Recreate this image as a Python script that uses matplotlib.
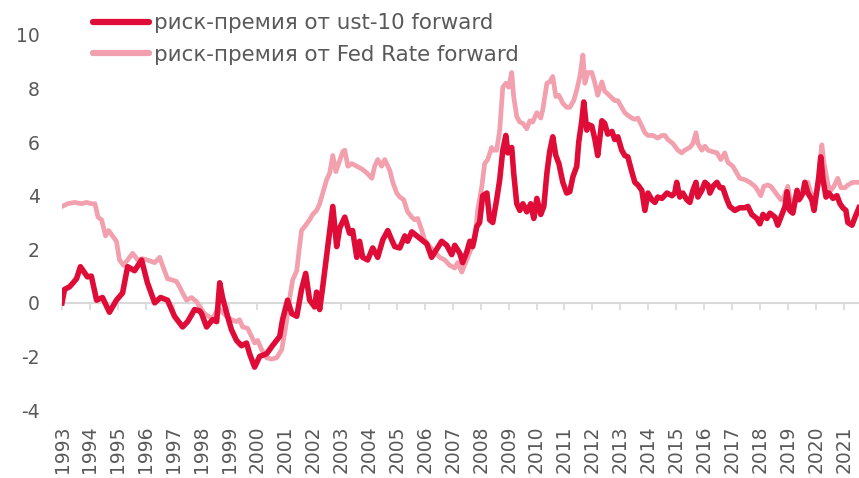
import matplotlib
matplotlib.use('Agg')
import matplotlib.pyplot as plt

# decimal years and values
t_ust = [1993.00, 1993.09, 1993.27, 1993.40, 1993.52, 1993.66, 1993.91, 1994.05, 1994.24, 1994.45,
         1994.70, 1994.95, 1995.17, 1995.35, 1995.60, 1995.85, 1996.06, 1996.32, 1996.53, 1996.78,
         1997.03, 1997.32, 1997.50, 1997.75, 1997.93, 1998.00, 1998.18, 1998.39, 1998.54, 1998.65,
         1998.75, 1998.93, 1999.07, 1999.25, 1999.43, 1999.61, 1999.72, 1999.90, 2000.08, 2000.33,
         2000.54, 2000.80, 2000.90, 2001.08, 2001.23, 2001.41, 2001.58, 2001.73, 2001.87, 2002.05,
         2002.12, 2002.23, 2002.34, 2002.52, 2002.70, 2002.84, 2002.95, 2003.13, 2003.30, 2003.41,
         2003.56, 2003.66, 2003.77, 2003.95, 2004.13, 2004.31, 2004.49, 2004.67, 2004.81, 2004.92,
         2005.10, 2005.28, 2005.38, 2005.53, 2005.71, 2005.89, 2006.07, 2006.24, 2006.42, 2006.60,
         2006.78, 2006.96, 2007.07, 2007.25, 2007.35, 2007.50, 2007.61, 2007.71, 2007.86, 2007.96,
         2008.07, 2008.22, 2008.32, 2008.43, 2008.57, 2008.68, 2008.79, 2008.90, 2008.97, 2009.11,
         2009.18, 2009.29, 2009.40, 2009.51, 2009.65, 2009.79, 2009.90, 2010.01, 2010.15, 2010.26,
         2010.37, 2010.47, 2010.58, 2010.69, 2010.80, 2010.94, 2011.08, 2011.19, 2011.30, 2011.44,
         2011.51, 2011.62, 2011.69, 2011.80, 2011.87, 2011.98, 2012.09, 2012.19, 2012.34, 2012.44,
         2012.55, 2012.70, 2012.80, 2012.91, 2013.05, 2013.16, 2013.27, 2013.41, 2013.52, 2013.63,
         2013.77, 2013.88, 2013.99, 2014.13, 2014.24, 2014.34, 2014.49, 2014.67, 2014.85, 2014.95,
         2015.02, 2015.13, 2015.24, 2015.38, 2015.49, 2015.60, 2015.71, 2015.78, 2015.92, 2016.03,
         2016.14, 2016.21, 2016.32, 2016.46, 2016.57, 2016.67, 2016.82, 2016.92, 2017.10, 2017.28,
         2017.46, 2017.57, 2017.71, 2017.89, 2018.00, 2018.11, 2018.25, 2018.36, 2018.54, 2018.64,
         2018.79, 2018.90, 2018.97, 2019.07, 2019.18, 2019.33, 2019.40, 2019.54, 2019.61, 2019.72,
         2019.86, 2019.94, 2020.04, 2020.11, 2020.18, 2020.26, 2020.37, 2020.47, 2020.62, 2020.76,
         2020.87, 2020.97, 2021.08, 2021.15, 2021.30, 2021.41, 2021.55]
ust10 = [0.0, 0.5, 0.6, 0.75, 0.9, 1.35, 0.97, 1.0, 0.1, 0.2,
         -0.35, 0.1, 0.37, 1.35, 1.2, 1.6, 0.75, 0.0, 0.2, 0.1,
         -0.5, -0.9, -0.7, -0.25, -0.3, -0.4, -0.9, -0.63, -0.7, 0.75,
         0.2, -0.5, -1.0, -1.4, -1.6, -1.5, -1.9, -2.4, -2.0, -1.9,
         -1.6, -1.25, -0.63, 0.1, -0.4, -0.5, 0.5, 1.1, 0.1, -0.15,
         0.4, -0.25, 0.6, 2.1, 3.6, 2.1, 2.8, 3.2, 2.6, 2.7,
         1.7, 2.3, 1.7, 1.6, 2.05, 1.7, 2.35, 2.7, 2.35, 2.1,
         2.05, 2.5, 2.3, 2.65, 2.5, 2.35, 2.2, 1.7, 2.0, 2.3,
         2.15, 1.8, 2.15, 1.85, 1.5, 1.9, 2.3, 2.1, 2.85, 3.0,
         4.0, 4.1, 3.1, 3.0, 3.85, 4.6, 5.7, 6.25, 5.6, 5.8,
         4.85, 3.7, 3.45, 3.7, 3.4, 3.7, 3.15, 3.9, 3.3, 3.6,
         4.85, 5.65, 6.2, 5.5, 5.2, 4.5, 4.1, 4.15, 4.7, 5.1,
         6.0, 6.8, 7.5, 6.45, 6.65, 6.6, 6.1, 5.5, 6.8, 6.7,
         6.3, 6.4, 6.1, 6.2, 5.7, 5.5, 5.45, 4.9, 4.5, 4.4,
         4.2, 3.45, 4.1, 3.85, 3.75, 3.95, 3.9, 4.1, 4.0, 4.1,
         4.5, 3.95, 4.1, 3.85, 3.75, 4.2, 4.5, 3.95, 4.2, 4.5,
         4.4, 4.1, 4.35, 4.5, 4.3, 4.3, 3.85, 3.6, 3.45, 3.55,
         3.55, 3.6, 3.3, 3.15, 2.95, 3.3, 3.15, 3.35, 3.2, 2.9,
         3.3, 3.6, 4.15, 3.45, 3.35, 4.2, 3.85, 4.1, 4.5, 4.1,
         3.85, 3.45, 4.2, 4.7, 5.45, 4.6, 3.95, 4.1, 3.9, 4.0,
         3.7, 3.55, 3.45, 3.0, 2.9, 3.2, 3.55]

t_fed = [1993.00, 1993.20, 1993.45, 1993.70, 1993.88, 1994.06, 1994.18, 1994.29, 1994.42, 1994.56,
         1994.67, 1994.81, 1994.95, 1995.06, 1995.20, 1995.35, 1995.53, 1995.71, 1995.88, 1996.06,
         1996.32, 1996.50, 1996.60, 1996.78, 1996.96, 1997.10, 1997.21, 1997.32, 1997.46, 1997.64,
         1997.82, 1997.93, 1998.10, 1998.39, 1998.60, 1998.90, 1999.07, 1999.25, 1999.36, 1999.47,
         1999.65, 1999.79, 1999.90, 2000.01, 2000.15, 2000.33, 2000.51, 2000.69, 2000.87, 2000.98,
         2001.05, 2001.16, 2001.26, 2001.41, 2001.48, 2001.58, 2001.73, 2001.87, 2001.98, 2002.12,
         2002.23, 2002.37, 2002.48, 2002.59, 2002.70, 2002.81, 2002.91, 2003.06, 2003.13, 2003.24,
         2003.38, 2003.56, 2003.74, 2003.92, 2004.10, 2004.20, 2004.31, 2004.45, 2004.56, 2004.74,
         2004.85, 2004.99, 2005.10, 2005.24, 2005.38, 2005.53, 2005.63, 2005.74, 2005.89, 2005.99,
         2006.17, 2006.35, 2006.53, 2006.71, 2006.89, 2007.07, 2007.17, 2007.32, 2007.50, 2007.61,
         2007.78, 2007.89, 2008.04, 2008.14, 2008.25, 2008.39, 2008.46, 2008.57, 2008.68, 2008.79,
         2008.90, 2009.00, 2009.11, 2009.18, 2009.29, 2009.40, 2009.51, 2009.65, 2009.76, 2009.86,
         2010.01, 2010.15, 2010.22, 2010.37, 2010.47, 2010.58, 2010.69, 2010.80, 2010.94, 2011.08,
         2011.19, 2011.33, 2011.44, 2011.55, 2011.66, 2011.73, 2011.84, 2011.98, 2012.09, 2012.19,
         2012.34, 2012.44, 2012.55, 2012.70, 2012.80, 2012.91, 2013.05, 2013.16, 2013.27, 2013.41,
         2013.52, 2013.63, 2013.77, 2013.88, 2013.99, 2014.17, 2014.34, 2014.49, 2014.60, 2014.70,
         2014.88, 2015.06, 2015.20, 2015.31, 2015.49, 2015.60, 2015.71, 2015.78, 2015.92, 2016.03,
         2016.14, 2016.28, 2016.46, 2016.60, 2016.74, 2016.85, 2017.03, 2017.17, 2017.28, 2017.46,
         2017.64, 2017.82, 2017.92, 2018.03, 2018.14, 2018.28, 2018.39, 2018.50, 2018.64, 2018.75,
         2018.86, 2019.00, 2019.11, 2019.22, 2019.36, 2019.47, 2019.58, 2019.72, 2019.83, 2019.94,
         2020.08, 2020.15, 2020.22, 2020.29, 2020.44, 2020.54, 2020.65, 2020.79, 2020.90, 2021.05,
         2021.15, 2021.33, 2021.48, 2021.55]
fed_rate = [3.6, 3.7, 3.75, 3.7, 3.75, 3.7, 3.7, 3.2, 3.1, 2.5,
            2.7, 2.5, 2.3, 1.6, 1.4, 1.6, 1.85, 1.6, 1.65, 1.6,
            1.5, 1.7, 1.4, 0.9, 0.85, 0.8, 0.6, 0.37, 0.1, 0.2,
            0.05, -0.15, -0.4, -0.6, -0.2, -0.5, -0.63, -0.7, -0.63, -0.9,
            -0.95, -1.25, -1.5, -1.4, -1.75, -2.05, -2.1, -2.05, -1.75, -1.1,
            -0.63, 0.2, 0.85, 1.2, 1.85, 2.7, 2.9, 3.1, 3.3, 3.45,
            3.7, 4.2, 4.6, 4.85, 5.5, 4.9, 5.2, 5.65, 5.7, 5.1,
            5.2, 5.1, 5.0, 4.85, 4.65, 5.1, 5.35, 5.1, 5.35, 4.95,
            4.5, 4.1, 3.95, 3.85, 3.4, 3.2, 3.1, 3.15, 2.7, 2.35,
            2.1, 1.9, 1.7, 1.6, 1.4, 1.3, 1.5, 1.15, 1.6, 1.9,
            2.3, 3.45, 4.35, 5.2, 5.35, 5.8, 5.7, 5.7, 6.45, 8.05,
            8.2, 8.05, 8.6, 7.7, 6.95, 6.75, 6.7, 6.5, 6.8, 6.75,
            7.1, 6.9, 7.2, 8.2, 8.25, 8.45, 7.7, 7.75, 7.45, 7.3,
            7.3, 7.55, 7.95, 8.45, 9.25, 8.2, 8.6, 8.6, 8.2, 7.75,
            8.25, 7.9, 7.8, 7.65, 7.55, 7.55, 7.3, 7.1, 7.0, 6.9,
            6.85, 6.9, 6.6, 6.35, 6.25, 6.25, 6.15, 6.25, 6.25, 6.1,
            5.95, 5.7, 5.6, 5.7, 5.8, 5.95, 6.35, 5.95, 5.7, 5.85,
            5.7, 5.65, 5.6, 5.35, 5.6, 5.25, 5.1, 4.85, 4.65, 4.6,
            4.5, 4.35, 4.2, 4.0, 4.35, 4.4, 4.35, 4.2, 4.0, 3.85,
            3.95, 4.35, 3.7, 3.85, 4.1, 3.9, 4.15, 4.5, 4.1, 3.85,
            4.35, 5.2, 5.9, 5.25, 4.4, 4.2, 4.35, 4.65, 4.3, 4.3,
            4.4, 4.5, 4.5, 4.5]

years = list(range(1993, 2022))
yticks = [-4, -2, 0, 2, 4, 6, 8, 10]

red = '#E00C38'
pink = '#F2A0AE'
grey = '#595959'
axis_grey = '#D9D9D9'
fs = 13.5
legend_fs = 15.4

fig = plt.figure(figsize=(8.59, 4.78), dpi=100)
ax = fig.add_axes([62 / 859, 68 / 478, 797 / 859, 375 / 478])

ax.plot(t_fed, fed_rate, color=pink, lw=3.4, label='риск-премия от Fed Rate forward', zorder=2)
ax.plot(t_ust, ust10, color=red, lw=4.0, label='риск-премия от ust-10 forward', zorder=3)

ax.set_xlim(1993.0, 2021.55)
ax.set_ylim(-4, 10)
ax.set_yticks(yticks)
ax.set_yticklabels([str(v) for v in yticks])
ax.tick_params(axis='y', length=0, pad=16, labelsize=fs, labelcolor=grey)

for s in ['left', 'right', 'top']:
    ax.spines[s].set_visible(False)
ax.spines['bottom'].set_position(('data', 0))
ax.spines['bottom'].set_color(axis_grey)
ax.spines['bottom'].set_linewidth(1.5)
ax.spines['bottom'].set_zorder(1)
ax.set_xticks(years)
ax.tick_params(axis='x', length=5, width=1.2, color=axis_grey, labelbottom=False)

# year labels sit at the bottom of the plot, not on the zero line
sec = ax.secondary_xaxis('bottom')
sec.set_xticks(years)
sec.set_xticklabels([str(y) for y in years], rotation=90, fontsize=fs, color=grey)
sec.tick_params(length=0, pad=11)
sec.spines['bottom'].set_visible(False)

handles, labels = ax.get_legend_handles_labels()
leg = ax.legend(handles[::-1], labels[::-1], loc='upper left',
                bbox_to_anchor=(93 / 859, 1 - 13 / 478), bbox_transform=fig.transFigure,
                frameon=False, fontsize=legend_fs, handlelength=2.6, handletextpad=0.25,
                labelspacing=0.55, borderpad=0, borderaxespad=0)
for txt in leg.get_texts():
    txt.set_color(grey)
for line in leg.get_lines():
    line.set_linewidth(4.5)
    line.set_solid_capstyle('round')

fig.savefig('out.png', dpi=100)
